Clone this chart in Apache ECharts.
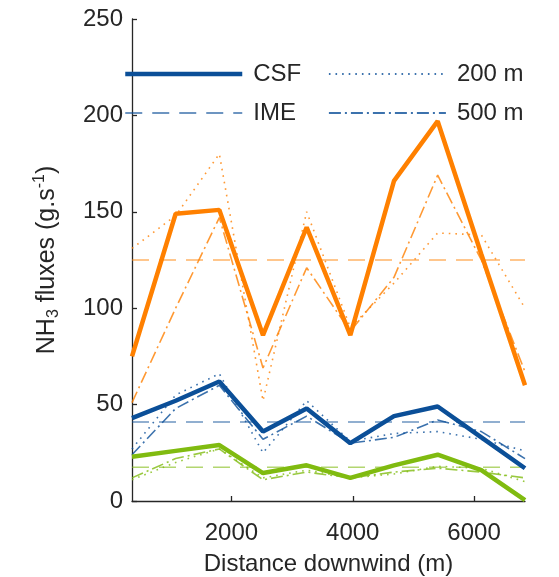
<!DOCTYPE html>
<html>
<head>
<meta charset="utf-8">
<script src="https://cdn.jsdelivr.net/npm/echarts@6/dist/echarts.min.js"></script>
<style>
html, body { margin: 0; padding: 0; background: #fff; }
#view { width: 559px; height: 577px; }
</style>
</head>
<body>
<div id="view"></div>
<script>
var myCharts = echarts.init(document.getElementById("view"));

/* distance downwind (m) */
var distance = [360, 1080, 1800, 2520, 3240, 3960, 4680, 5400, 6120, 6840];
var xTicks = [2000, 4000, 6000];

/* orange */
var csfOrange  = [75, 149, 151, 86, 142, 86, 166, 197, 128, 60];
var m200Orange = [131, 148, 180, 52, 150, 90, 113, 139, 138, 100];
var m500Orange = [51, 100, 147, 69, 121, 88, 116, 169, 125, 67];
var imeOrange  = 125;

/* blue */
var csfBlue  = [43, 52, 62, 36, 48, 30, 44, 49, 33, 17];
var m200Blue = [27, 55, 66, 25, 52, 31, 35, 36, 32, 26];
var m500Blue = [24, 48, 60, 32, 44, 30, 33, 42, 36, 22];
var imeBlue  = 41;

/* green */
var csfGreen  = [23, 26, 29, 14.5, 18.5, 12, 18.5, 24, 16, 0.5];
var m200Green = [11, 20, 27, 12, 16, 12, 14, 18, 17, 10];
var m500Green = [12, 22, 27, 11, 15, 12, 15, 17, 15, 12];
var imeGreen  = 17.5;

var ORANGE = '#ff8000';
var BLUE = '#0b4f98';
var GREEN = '#80bb10';
var TXT = '#262626';
var FONT = '"Liberation Sans", Arial, sans-serif';

function pairs(ys) {
    return distance.map(function (d, i) { return [d, ys[i]]; });
}
function flat(v) {
    return [[distance[0], v], [distance[distance.length - 1], v]];
}
// kind: csf / ime / m200 / m500
function line(name, data, color, kind) {
    var ls = { color: color, width: 1.6, opacity: 0.8 };
    var z = 2;
    if (kind === 'csf') { ls.width = 4.5; ls.opacity = 1; z = 5; }
    if (kind === 'ime') { ls.type = [17, 10]; ls.opacity = 0.6; }
    if (kind === 'm200') { ls.type = [1.6, 5]; }
    if (kind === 'm500') { ls.type = [12, 4, 2, 4]; }
    return {
        name: name,
        type: 'line',
        data: data,
        symbol: 'none',
        z: z,
        color: color,
        lineStyle: ls,
        animation: false
    };
}

var legendCommon = {
    orient: 'vertical',
    top: 59,
    padding: 0,
    itemWidth: 117,
    itemHeight: 14,
    itemGap: 9,
    selectedMode: false,
    itemStyle: { opacity: 0 },  // hide the symbol, keep the line
    lineStyle: { width: 1.8 },
    textStyle: { color: TXT, fontSize: 24, fontFamily: FONT, lineHeight: 30, padding: [0, 0, 0, 6] }
};

option = {
    backgroundColor: '#fff',
    animation: false,
    grid: { left: 132, right: 34, top: 19, bottom: 76, outerBoundsMode: 'none' },
    legend: [
        Object.assign({ left: 123, data: [{ name: 'CSF', lineStyle: { width: 4.5 } }, 'IME'] }, legendCommon),
        Object.assign({ left: 328, data: ['200 m', '500 m'] }, legendCommon)
    ],
    xAxis: {
        type: 'value',
        min: distance[0],
        max: distance[distance.length - 1],
        name: 'Distance downwind (m)',
        nameLocation: 'middle',
        nameGap: 51,
        nameTextStyle: { color: TXT, fontSize: 24, fontFamily: FONT },
        splitLine: { show: false },
        axisLine: { lineStyle: { color: TXT, width: 1.3 } },
        axisTick: { inside: true, length: 5, customValues: xTicks, lineStyle: { color: TXT, width: 1.3 } },
        axisLabel: {
            customValues: xTicks, color: TXT, fontSize: 24, fontFamily: FONT, margin: 20,
            formatter: function (v) { return String(v); }
        }
    },
    yAxis: {
        type: 'value',
        min: 0,
        max: 250,
        interval: 50,
        name: '{n|NH}{sub|3}{n| fluxes (g.s}{sup|-1}{n|)}',
        nameLocation: 'middle',
        nameGap: 70,
        nameTextStyle: {
            color: TXT, fontFamily: FONT,
            rich: {
                n: { fontSize: 25, lineHeight: 30, color: TXT, fontFamily: FONT },
                sub: { fontSize: 16, lineHeight: 15, verticalAlign: 'bottom', color: TXT, fontFamily: FONT },
                sup: { fontSize: 16, lineHeight: 15, verticalAlign: 'top', color: TXT, fontFamily: FONT }
            }
        },
        splitLine: { show: false },
        axisLine: { show: true, lineStyle: { color: TXT, width: 1.3 } },
        axisTick: { show: true, inside: true, length: 5, lineStyle: { color: TXT, width: 1.3 } },
        axisLabel: { color: TXT, fontSize: 24, fontFamily: FONT, margin: 9 }
    },
    series: [
        line('IME', flat(imeBlue), BLUE, 'ime'),
        line('200 m', pairs(m200Blue), BLUE, 'm200'),
        line('500 m', pairs(m500Blue), BLUE, 'm500'),
        line('CSF', pairs(csfBlue), BLUE, 'csf'),

        line('IME orange', flat(imeOrange), ORANGE, 'ime'),
        line('200 m orange', pairs(m200Orange), ORANGE, 'm200'),
        line('500 m orange', pairs(m500Orange), ORANGE, 'm500'),
        line('CSF orange', pairs(csfOrange), ORANGE, 'csf'),

        line('IME green', flat(imeGreen), GREEN, 'ime'),
        line('200 m green', pairs(m200Green), GREEN, 'm200'),
        line('500 m green', pairs(m500Green), GREEN, 'm500'),
        line('CSF green', pairs(csfGreen), GREEN, 'csf')
    ]
};

myCharts.setOption(option);
</script>
</body>
</html>
